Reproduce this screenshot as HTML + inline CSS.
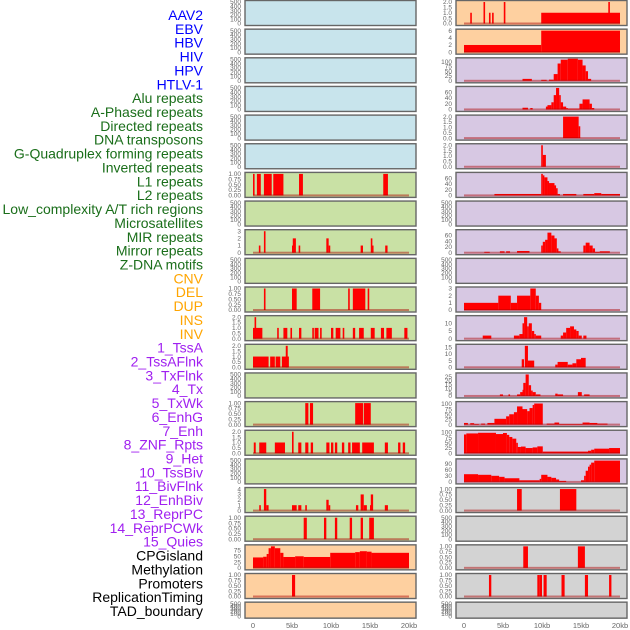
<!DOCTYPE html>
<html><head><meta charset="utf-8"><style>
body{margin:0;background:#fff;}
svg{display:block;font-family:"Liberation Sans",sans-serif;}
</style></head><body>
<svg id="chart" width="630" height="630" viewBox="0 0 630 630" xmlns="http://www.w3.org/2000/svg"></svg>
<script>
const trackLabels = ["AAV2","EBV","HBV","HIV","HPV","HTLV-1","Alu repeats","A-Phased repeats","Directed repeats","DNA transposons","G-Quadruplex forming repeats","Inverted repeats","L1 repeats","L2 repeats","Low_complexity A/T rich regions","Microsatellites","MIR repeats","Mirror repeats","Z-DNA motifs","CNV","DEL","DUP","INS","INV","1_TssA","2_TssAFlnk","3_TxFlnk","4_Tx","5_TxWk","6_EnhG","7_Enh","8_ZNF_Rpts","9_Het","10_TssBiv","11_BivFlnk","12_EnhBiv","13_ReprPC","14_ReprPCWk","15_Quies","CPGisland","Methylation","Promoters","ReplicationTiming","TAD_boundary"];
const labelGroups = [0,0,0,0,0,0,1,1,1,1,1,1,1,1,1,1,1,1,1,2,2,2,2,2,3,3,3,3,3,3,3,3,3,3,3,3,3,3,3,4,4,4,4,4];
const xTicks = ["0","5kb","10kb","15kb","20kb"];
const xTickValues = [0,5,10,15,20];

const EMPTY = [];
const L6 = [[0,0.15,1],[0.5,1.0,1],[1.4,2.4,1],[2.6,3.9,1],[5.9,6.4,1],[16.7,17.3,1]];
const L8 = [[0.75,0.95,1],[1.4,1.6,3],[5.0,5.1,1],[5.1,5.5,2],[5.85,6.05,1],[9.4,9.7,2],[9.7,9.9,1],[13.8,14.1,1],[15.1,15.25,2],[15.25,15.4,1],[16.95,17.25,1]];
const L10 = [[1.4,1.6,1],[5.0,5.6,1],[7.6,8.6,1],[12.2,12.4,1],[12.8,14.4,1],[14.7,14.9,1]];
const L11 = [[0,1.2,1],[0.2,0.4,2],[3.1,3.3,1],[3.9,4.4,1],[4.8,5.0,1],[5.9,6.2,1],[7.6,7.8,1],[7.9,8.4,1],[8.6,8.8,1],[10.0,10.3,1],[10.6,11.2,1],[11.5,11.7,1],[12.8,13.1,1],[13.6,14.2,1],[15.1,15.6,1],[16.4,16.8,1],[17.1,17.8,1],[19.4,19.8,1]];
const L12 = [[0,2.0,1],[2.2,2.8,1],[2.9,3.5,1],[3.7,4.6,1],[4.2,4.45,2]];
const L14 = [[6.7,7.1,1],[7.3,7.7,1],[13.1,14.1,1],[14.2,15.1,1]];
const L15 = [[0.1,0.35,1],[0.8,1.7,1],[2.8,4.1,1],[5.0,5.2,2],[5.8,6.2,1],[6.7,7.1,1],[7.4,7.7,1],[9.4,9.8,1],[10.0,10.3,1],[10.5,10.8,1],[11.4,11.7,1],[12.2,12.5,1],[12.7,13.7,1],[14.0,15.5,1],[16.9,17.3,1],[18.6,18.9,1],[19.2,19.5,1]];
const L17 = [[0.8,1.0,1],[1.4,1.7,4],[1.7,2.0,1],[5.0,5.6,1],[5.8,6.2,1],[6.7,6.9,1],[9.4,9.7,2],[9.7,9.9,1],[13.2,13.5,1],[13.8,14.2,3],[14.2,14.6,1],[15.0,15.3,1],[15.1,15.4,3],[16.9,17.3,1]];
const L18 = [[6.5,6.9,1],[9.1,9.4,1],[10.5,10.8,1],[12.4,12.7,1],[13.8,14.1,1],[14.9,15.5,1]];
const L19 = [[0,1.3,45],[1.3,1.75,48],[1.75,2.0,60],[2.0,2.3,85],[2.3,2.8,93],[2.8,3.5,85],[3.5,3.9,65],[3.9,5.4,47],[5.4,6.5,50],[6.5,9.9,47],[9.9,13.1,65],[13.1,13.7,68],[13.7,14.6,72],[14.6,15.2,70],[15.2,20,65]];
const L20 = [[5.0,5.4,1]];
const R0 = [[0.8,1.0,1],[2.5,2.7,2],[3.2,3.4,1],[3.6,3.8,1],[5.1,5.3,2],[9.9,20,1],[18.5,18.7,2]];
const R1 = [[0,9.9,2],[9.9,20,6]];
const R2 = [[7.5,8.7,10],[9.9,10.6,5],[10.9,11.5,6],[11.5,12.0,35],[12.0,12.4,90],[12.4,13.3,110],[13.3,14.6,115],[14.6,15.2,110],[15.2,15.6,80],[15.6,15.9,50],[15.9,16.3,10]];
const R3 = [[7.5,8.2,6],[8.5,8.8,5],[10.5,10.7,10],[10.7,11.2,15],[11.2,11.5,25],[11.5,11.8,50],[11.8,12.2,75],[12.2,12.4,50],[12.4,12.7,25],[12.7,13.1,10],[13.1,13.3,5],[13.3,14.8,3],[14.8,15.2,20],[15.2,16.1,35],[16.1,16.4,20],[16.4,16.7,5]];
const R4 = [[12.7,14.7,2],[14.7,14.9,1.1]];
const R5 = [[9.9,10.1,2],[10.1,10.5,1.1]];
const R6 = [[3.9,9.9,5],[9.9,10.1,75],[10.1,10.3,70],[10.3,10.7,63],[10.7,10.9,50],[10.9,11.6,43],[11.6,11.8,35],[11.8,12.0,25],[12.0,12.3,5],[12.7,14.4,5],[15.3,16.7,5],[16.7,17.6,8],[17.6,20,5]];
const R8 = [[2.6,3.3,3],[4.6,5.2,5],[5.4,5.9,5],[6.8,8.4,6],[9.9,10.1,25],[10.1,10.4,38],[10.4,10.7,45],[10.7,11.2,70],[11.2,11.6,60],[11.6,11.9,50],[11.9,12.0,15],[12.0,12.4,5],[15.3,15.6,25],[15.6,16.1,35],[16.1,16.5,25],[16.5,16.8,15],[16.8,17.4,3],[17.4,18.7,5]];
const R10 = [[0,4.4,1],[4.4,6.0,2],[6.0,6.8,1],[6.8,8.5,2],[8.5,9.2,3],[9.2,9.6,2],[9.6,9.9,1]];
const R11 = [[2.4,3.5,2],[6.4,7.1,2],[7.1,7.5,3],[7.5,7.7,10],[7.7,8.1,14],[8.1,8.3,8],[8.3,8.7,10],[8.7,9.0,5],[9.0,9.2,3],[9.2,9.9,2],[12.4,12.7,2],[12.7,13.1,4],[13.1,13.6,7],[13.6,14.1,8],[14.1,14.4,6],[14.4,14.7,5],[14.7,15.1,2],[15.3,15.7,2]];
const R12 = [[7.4,7.7,6],[7.8,8.2,16],[8.2,9.0,5],[11.7,12.0,2],[12.0,13.3,4],[13.3,13.9,2],[13.9,14.4,3],[14.4,15.0,6],[15.0,15.6,7]];
const R13 = [[4.6,5.0,2],[5.7,5.9,2],[6.8,7.2,2],[7.2,7.5,5],[7.5,7.6,8],[7.6,7.9,17],[7.9,8.3,28],[8.3,8.6,14],[8.6,8.8,7],[8.8,9.2,5],[9.2,9.8,2],[11.7,12.0,3],[12.0,12.7,2],[14.6,15.1,5],[15.4,16.1,2]];
const R14 = [[0,0.5,8],[0.8,1.3,7],[1.3,1.9,3],[2.2,2.7,5],[3.0,3.9,8],[3.9,5.4,28],[5.4,5.8,40],[5.8,6.4,50],[6.4,6.8,60],[6.8,7.5,88],[7.5,8.1,75],[8.1,8.4,65],[8.4,8.8,80],[8.8,9.0,95],[9.0,10.1,102],[10.6,11.6,5],[11.6,12.2,10],[12.2,15.2,3],[15.2,16.1,10],[16.1,17.1,8],[17.1,18.4,5]];
const R15 = [[0,0.3,90],[0.3,1.8,95],[1.8,4.1,98],[4.1,5.0,92],[5.0,5.5,97],[5.5,5.8,88],[5.8,6.2,78],[6.2,6.7,70],[6.7,6.9,50],[6.9,7.3,30],[7.3,7.9,32],[7.9,8.8,25],[8.8,9.4,28],[9.4,10.1,33],[10.1,15.9,8],[15.9,16.3,12],[16.3,16.7,17],[16.7,18.6,22],[18.6,20,25]];
const R16 = [[0,1.8,38],[1.8,3.5,35],[3.5,4.5,30],[4.5,5.2,25],[5.2,7.1,18],[7.1,9.7,8],[9.7,9.9,15],[9.9,10.7,35],[10.7,11.2,25],[11.2,11.8,20],[11.8,12.2,12],[12.2,13.1,5],[15.0,15.4,8],[15.4,15.6,30],[15.6,15.9,55],[15.9,16.1,75],[16.1,16.3,85],[16.3,16.7,95],[16.7,20,105]];
const R17 = [[6.8,7.4,1],[12.3,14.4,1]];
const R19 = [[7.6,8.2,1],[14.6,15.5,1]];
const R20 = [[3.2,3.5,1],[9.4,9.7,1],[9.7,10.0,1],[10.2,10.6,1],[12.5,12.9,1],[15.5,15.9,1],[18.6,18.9,1]];

const leftSeries = [EMPTY,EMPTY,EMPTY,EMPTY,EMPTY,EMPTY,L6,EMPTY,L8,EMPTY,L10,L11,L12,EMPTY,L14,L15,EMPTY,L17,L18,L19,L20,EMPTY];
const rightSeries = [R0,R1,R2,R3,R4,R5,R6,EMPTY,R8,EMPTY,R10,R11,R12,R13,R14,R15,R16,R17,EMPTY,R19,R20,EMPTY];
const T500 = ["0","100","200","300","400","500"], T1 = ["0.00","0.25","0.50","0.75","1.00"], T2 = ["0.0","0.5","1.0","1.5","2.0"];
const leftTicks = [T500,T500,T500,T500,T500,T500,T1,T500,["0","1","2","3"],T500,T1,T2,T2,T500,T1,T2,T500,["0","1","2","3","4"],T1,["0","25","50","75"],T1,T500];
const leftMax = [500,500,500,500,500,500,1,500,3,500,1,2,2,500,1,2,500,4,1,93,1,500];
const rightTicks = [T2,["0","2","4","6"],["0","25","50","75","100"],["0","20","40","60"],T2,T2,["0","20","40","60"],T500,["0","20","40","60"],T500,["0","1","2","3"],["0","5","10"],["0","5","10","15"],["0","5","10","15","20","25"],["0","25","50","75","100"],["0","25","50","75","100"],["0","30","60","90"],T1,T500,T1,T1,T500];
const rightMax = [2,6,112,75,2,2,75,500,75,500,3,14,16,28,104,103,106,1,500,1,1,500];
const leftBg = ["#c8e4ec","#c8e4ec","#c8e4ec","#c8e4ec","#c8e4ec","#c8e4ec","#c9e1a5","#c9e1a5","#c9e1a5","#c9e1a5","#c9e1a5","#c9e1a5","#c9e1a5","#c9e1a5","#c9e1a5","#c9e1a5","#c9e1a5","#c9e1a5","#c9e1a5","#fed0a0","#fed0a0","#fed0a0"];
const rightBg = ["#fed0a0","#fed0a0","#d7c8e3","#d7c8e3","#d7c8e3","#d7c8e3","#d7c8e3","#d7c8e3","#d7c8e3","#d7c8e3","#d7c8e3","#d7c8e3","#d7c8e3","#d7c8e3","#d7c8e3","#d7c8e3","#d7c8e3","#d3d3d3","#d3d3d3","#d3d3d3","#d3d3d3","#d3d3d3"];

const NS = "http://www.w3.org/2000/svg";
const svg = document.getElementById("chart");
const groupColors = ["#0000ff","#1a6e1a","#ffa500","#a020f0","#000000"];
function mk(tag, attrs, parent){ const e=document.createElementNS(NS,tag); for(const k in attrs) e.setAttribute(k,attrs[k]); (parent||svg).appendChild(e); return e; }

trackLabels.forEach((t,i)=>{
  const e = mk("text",{x:203,y:20+i*13.86,"text-anchor":"end","font-size":"14",fill:groupColors[labelGroups[i]]});
  e.textContent = t;
  
  
});

function drawColumn(colX0, series, ticks, maxes, bgs, colName){
  const px0 = colX0;
  const xs = v => colX0 + 8 + v * 7.8;
  series.forEach((segs,i)=>{
    const top = 0.5 + i*28.65;
    const h = (i===21) ? 16 : 25;
    const bottom = top + h;
    const g = mk("g",{});
    
    
    mk("rect",{x:px0,y:top,width:171,height:h,fill:bgs[i],stroke:"#666","stroke-width":"1.4"},g);
    const ymax = maxes[i];
    const ys = v => bottom - 2 - (v/ymax)*(h-3.5);
    ticks[i].forEach(t=>{
      const e = mk("text",{x:px0-4,y:ys(parseFloat(t))+2.2,"text-anchor":"end","font-size":"6.5",fill:"#666"},g);
      e.textContent = t;
      
      
    });
    if(segs.length){
      segs.forEach(s=>{
        const x0 = xs(s[0]), x1 = xs(s[1]);
        const b = mk("rect",{x:x0,y:ys(s[2]),width:Math.max(1.6,x1-x0),height:ys(0)-ys(s[2]),fill:"#ff0000"},g);
        
        
      });
      const bl = mk("rect",{x:xs(0),y:ys(0)-1,width:xs(20)-xs(0),height:2,fill:"rgba(170,0,0,0.45)"},g);
      
      
    }
  });
  xTickValues.forEach((v,k)=>{
    const e = mk("text",{x:xs(v),y:628,"text-anchor":"middle","font-size":"7.5",fill:"#666"});
    e.textContent = xTicks[k];
    
    
  });
}
drawColumn(245, leftSeries, leftTicks, leftMax, leftBg, 'left');
drawColumn(456, rightSeries, rightTicks, rightMax, rightBg, 'right');
</script>
</body></html>
